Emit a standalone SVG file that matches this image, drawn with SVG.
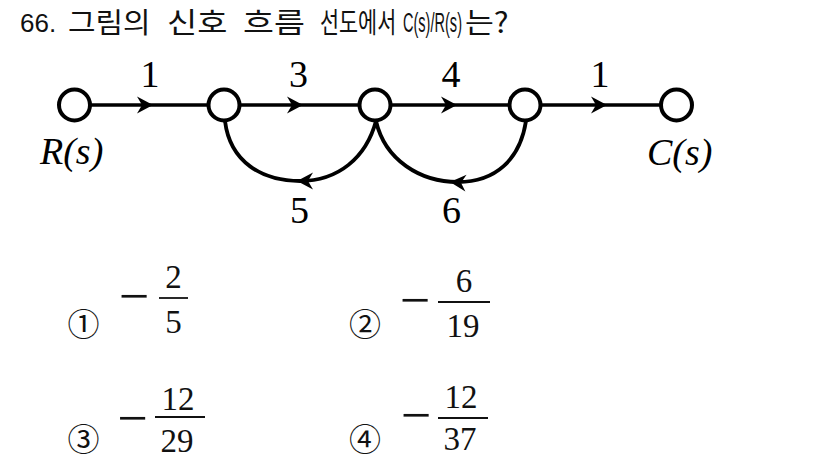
<svg xmlns="http://www.w3.org/2000/svg" xmlns:xlink="http://www.w3.org/1999/xlink" width="826" height="460" viewBox="0 0 826 460">
<style>
.title{font-family:"Liberation Sans","Noto Sans CJK KR",sans-serif;font-size:26px;fill:#111}
.latin{font-family:"Liberation Sans",sans-serif;font-size:28px;fill:#111}
.kr{font-family:"Noto Sans CJK KR","Liberation Sans",sans-serif;font-size:28px;fill:#111}
.node{fill:#fff;stroke:#000;stroke-width:4}
.edge{fill:none;stroke:#000;stroke-width:3.5}
.curve{fill:none;stroke:#000;stroke-width:3.8}
.lbl{font-family:"Liberation Serif","Times New Roman",serif;font-size:38px;fill:#000;text-anchor:middle}
.var{font-family:"Liberation Serif","Times New Roman",serif;font-size:38px;font-style:italic;fill:#000}
.num{font-family:"Liberation Serif","Times New Roman",serif;font-size:33px;fill:#111;text-anchor:middle}
.minus{font-family:"Liberation Serif","Times New Roman",serif;font-size:54px;fill:#111;text-anchor:middle}
.bar{stroke:#111;stroke-width:1.8}
.circ{font-family:"Noto Sans CJK KR",sans-serif;font-size:32px;fill:#111;text-anchor:middle}
</style>
<defs>
<path id="ah" d="M0,0 L-16,-8.5 L-11,0 L-16,8.5 Z" fill="#000"/>
</defs>
<rect width="826" height="460" fill="#fff"/>
<g id="title">
<text class="title" x="20" y="32">66.</text>
<text class="kr" transform="translate(68,33) scale(1.07,1)">그림의</text>
<text class="kr" transform="translate(167,33) scale(1.17,1)">신호</text>
<text class="kr" transform="translate(243,33) scale(1.2,1)">흐름</text>
<text class="kr" transform="translate(320,33) scale(0.74,1)">선도에서</text>
<text class="latin" transform="translate(403,32) scale(0.52,1)">C(s)/R(s)</text>
<text class="kr" transform="translate(465,33) scale(1.12,1)">는?</text>
</g>
<g id="connectors">
<line class="edge" x1="90" y1="105" x2="208.5" y2="105"/>
<line class="edge" x1="239.5" y1="105" x2="359.5" y2="105"/>
<line class="edge" x1="390.5" y1="105" x2="509.5" y2="105"/>
<line class="edge" x1="540.5" y1="105" x2="661" y2="105"/>
<use xlink:href="#ah" transform="translate(153,105)"/>
<use xlink:href="#ah" transform="translate(303,105)"/>
<use xlink:href="#ah" transform="translate(457,105)"/>
<use xlink:href="#ah" transform="translate(607,105)"/>
<path class="curve" d="M376,121 C366,158 338,181 300,181 C262,181 230,162 225,121"/>
<path class="curve" d="M526,121 C520,160 495,182 458,182 C420,182 385,160 376,121"/>
<use xlink:href="#ah" transform="translate(297,181) rotate(180)"/>
<use xlink:href="#ah" transform="translate(450,182) rotate(184)"/>
<text class="lbl" x="150" y="87">1</text>
<text class="lbl" x="298.5" y="87">3</text>
<text class="lbl" x="451" y="87">4</text>
<text class="lbl" x="600" y="87">1</text>
<text class="lbl" x="299.5" y="223">5</text>
<text class="lbl" x="451.5" y="223">6</text>
</g>
<g id="node-R">
<circle class="node" cx="74.5" cy="105" r="15.5"/>
<text class="var" x="40" y="164">R(s)</text>
</g>
<g id="node-2"><circle class="node" cx="224" cy="105" r="15.5"/></g>
<g id="node-3"><circle class="node" cx="375" cy="105" r="15.5"/></g>
<g id="node-4"><circle class="node" cx="525" cy="105" r="15.5"/></g>
<g id="node-C">
<circle class="node" cx="676.5" cy="105" r="15.5"/>
<text class="var" x="647" y="165">C(s)</text>
</g>
<g id="option-1">
<text class="circ" x="83.5" y="336">①</text>
<text class="minus" x="134" y="314">−</text>
<text class="num" x="173.5" y="288">2</text>
<line class="bar" x1="159" y1="298" x2="188" y2="298"/>
<text class="num" x="173.5" y="333">5</text>
</g>
<g id="option-2">
<text class="circ" x="365" y="336">②</text>
<text class="minus" x="415" y="318">−</text>
<text class="num" x="464" y="292">6</text>
<line class="bar" x1="438" y1="302" x2="490" y2="302"/>
<text class="num" x="463" y="337">19</text>
</g>
<g id="option-3">
<text class="circ" x="83.5" y="451">③</text>
<text class="minus" x="132.5" y="436">−</text>
<text class="num" x="178" y="410">12</text>
<line class="bar" x1="155" y1="417" x2="205" y2="417"/>
<text class="num" x="177" y="452">29</text>
</g>
<g id="option-4">
<text class="circ" x="365" y="451">④</text>
<text class="minus" x="416" y="433">−</text>
<text class="num" x="461" y="408">12</text>
<line class="bar" x1="438" y1="418" x2="488" y2="418"/>
<text class="num" x="460" y="450">37</text>
</g>
</svg>
